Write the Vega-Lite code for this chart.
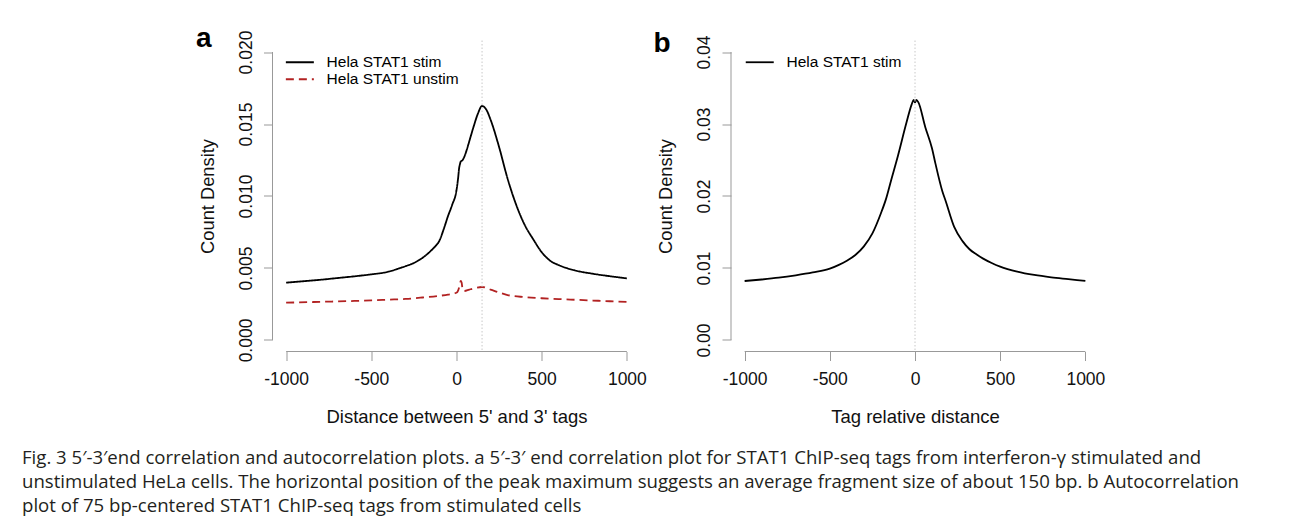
{
  "$schema": "https://vega.github.io/schema/vega-lite/v6.json",
  "background": "white",
  "padding": {"left": 22, "top": 24.5, "right": 0, "bottom": 0},
  "datasets": {
    "a": [
      {"x": -1000, "y": 0.00398, "series": "Hela STAT1 stim"},
      {"x": -900, "y": 0.00408, "series": "Hela STAT1 stim"},
      {"x": -800, "y": 0.00418, "series": "Hela STAT1 stim"},
      {"x": -700, "y": 0.0043, "series": "Hela STAT1 stim"},
      {"x": -600, "y": 0.00442, "series": "Hela STAT1 stim"},
      {"x": -500, "y": 0.00456, "series": "Hela STAT1 stim"},
      {"x": -400, "y": 0.00474, "series": "Hela STAT1 stim"},
      {"x": -330, "y": 0.005, "series": "Hela STAT1 stim"},
      {"x": -300, "y": 0.00512, "series": "Hela STAT1 stim"},
      {"x": -250, "y": 0.00535, "series": "Hela STAT1 stim"},
      {"x": -200, "y": 0.0057, "series": "Hela STAT1 stim"},
      {"x": -150, "y": 0.0062, "series": "Hela STAT1 stim"},
      {"x": -125, "y": 0.0065, "series": "Hela STAT1 stim"},
      {"x": -100, "y": 0.0069, "series": "Hela STAT1 stim"},
      {"x": -75, "y": 0.0077, "series": "Hela STAT1 stim"},
      {"x": -50, "y": 0.0086, "series": "Hela STAT1 stim"},
      {"x": -25, "y": 0.0094, "series": "Hela STAT1 stim"},
      {"x": 0, "y": 0.0104, "series": "Hela STAT1 stim"},
      {"x": 10, "y": 0.0113, "series": "Hela STAT1 stim"},
      {"x": 15, "y": 0.0119, "series": "Hela STAT1 stim"},
      {"x": 20, "y": 0.0122, "series": "Hela STAT1 stim"},
      {"x": 25, "y": 0.0124, "series": "Hela STAT1 stim"},
      {"x": 35, "y": 0.01248, "series": "Hela STAT1 stim"},
      {"x": 45, "y": 0.0127, "series": "Hela STAT1 stim"},
      {"x": 60, "y": 0.0132, "series": "Hela STAT1 stim"},
      {"x": 75, "y": 0.0138, "series": "Hela STAT1 stim"},
      {"x": 100, "y": 0.0148, "series": "Hela STAT1 stim"},
      {"x": 125, "y": 0.0157, "series": "Hela STAT1 stim"},
      {"x": 150, "y": 0.01625, "series": "Hela STAT1 stim"},
      {"x": 175, "y": 0.016, "series": "Hela STAT1 stim"},
      {"x": 200, "y": 0.0153, "series": "Hela STAT1 stim"},
      {"x": 250, "y": 0.0134, "series": "Hela STAT1 stim"},
      {"x": 300, "y": 0.0112, "series": "Hela STAT1 stim"},
      {"x": 350, "y": 0.0094, "series": "Hela STAT1 stim"},
      {"x": 400, "y": 0.008, "series": "Hela STAT1 stim"},
      {"x": 450, "y": 0.007, "series": "Hela STAT1 stim"},
      {"x": 500, "y": 0.0061, "series": "Hela STAT1 stim"},
      {"x": 550, "y": 0.0055, "series": "Hela STAT1 stim"},
      {"x": 600, "y": 0.0052, "series": "Hela STAT1 stim"},
      {"x": 700, "y": 0.00482, "series": "Hela STAT1 stim"},
      {"x": 800, "y": 0.0046, "series": "Hela STAT1 stim"},
      {"x": 900, "y": 0.00443, "series": "Hela STAT1 stim"},
      {"x": 1000, "y": 0.00428, "series": "Hela STAT1 stim"},
      {"x": -1000, "y": 0.00259, "series": "Hela STAT1 unstim"},
      {"x": -800, "y": 0.00265, "series": "Hela STAT1 unstim"},
      {"x": -600, "y": 0.00271, "series": "Hela STAT1 unstim"},
      {"x": -500, "y": 0.00275, "series": "Hela STAT1 unstim"},
      {"x": -400, "y": 0.0028, "series": "Hela STAT1 unstim"},
      {"x": -300, "y": 0.00285, "series": "Hela STAT1 unstim"},
      {"x": -200, "y": 0.00295, "series": "Hela STAT1 unstim"},
      {"x": -100, "y": 0.00307, "series": "Hela STAT1 unstim"},
      {"x": -50, "y": 0.00315, "series": "Hela STAT1 unstim"},
      {"x": 0, "y": 0.00328, "series": "Hela STAT1 unstim"},
      {"x": 10, "y": 0.00345, "series": "Hela STAT1 unstim"},
      {"x": 18, "y": 0.00375, "series": "Hela STAT1 unstim"},
      {"x": 25, "y": 0.0041, "series": "Hela STAT1 unstim"},
      {"x": 30, "y": 0.004, "series": "Hela STAT1 unstim"},
      {"x": 36, "y": 0.0035, "series": "Hela STAT1 unstim"},
      {"x": 45, "y": 0.0034, "series": "Hela STAT1 unstim"},
      {"x": 75, "y": 0.0035, "series": "Hela STAT1 unstim"},
      {"x": 100, "y": 0.00358, "series": "Hela STAT1 unstim"},
      {"x": 150, "y": 0.00368, "series": "Hela STAT1 unstim"},
      {"x": 200, "y": 0.0035, "series": "Hela STAT1 unstim"},
      {"x": 250, "y": 0.0033, "series": "Hela STAT1 unstim"},
      {"x": 300, "y": 0.00312, "series": "Hela STAT1 unstim"},
      {"x": 400, "y": 0.00298, "series": "Hela STAT1 unstim"},
      {"x": 500, "y": 0.0029, "series": "Hela STAT1 unstim"},
      {"x": 600, "y": 0.00284, "series": "Hela STAT1 unstim"},
      {"x": 700, "y": 0.00279, "series": "Hela STAT1 unstim"},
      {"x": 800, "y": 0.00274, "series": "Hela STAT1 unstim"},
      {"x": 900, "y": 0.00269, "series": "Hela STAT1 unstim"},
      {"x": 1000, "y": 0.00265, "series": "Hela STAT1 unstim"}
    ],
    "b": [
      {"x": -1000, "y": 0.00819, "series": "Hela STAT1 stim"},
      {"x": -900, "y": 0.0084, "series": "Hela STAT1 stim"},
      {"x": -800, "y": 0.00865, "series": "Hela STAT1 stim"},
      {"x": -700, "y": 0.00898, "series": "Hela STAT1 stim"},
      {"x": -600, "y": 0.00938, "series": "Hela STAT1 stim"},
      {"x": -500, "y": 0.0099, "series": "Hela STAT1 stim"},
      {"x": -450, "y": 0.0104, "series": "Hela STAT1 stim"},
      {"x": -400, "y": 0.011, "series": "Hela STAT1 stim"},
      {"x": -350, "y": 0.0118, "series": "Hela STAT1 stim"},
      {"x": -300, "y": 0.013, "series": "Hela STAT1 stim"},
      {"x": -250, "y": 0.0148, "series": "Hela STAT1 stim"},
      {"x": -200, "y": 0.0176, "series": "Hela STAT1 stim"},
      {"x": -170, "y": 0.0196, "series": "Hela STAT1 stim"},
      {"x": -140, "y": 0.0222, "series": "Hela STAT1 stim"},
      {"x": -100, "y": 0.0256, "series": "Hela STAT1 stim"},
      {"x": -50, "y": 0.0302, "series": "Hela STAT1 stim"},
      {"x": -20, "y": 0.0327, "series": "Hela STAT1 stim"},
      {"x": -8, "y": 0.03335, "series": "Hela STAT1 stim"},
      {"x": 0, "y": 0.033, "series": "Hela STAT1 stim"},
      {"x": 8, "y": 0.03335, "series": "Hela STAT1 stim"},
      {"x": 20, "y": 0.033, "series": "Hela STAT1 stim"},
      {"x": 60, "y": 0.0296, "series": "Hela STAT1 stim"},
      {"x": 100, "y": 0.0266, "series": "Hela STAT1 stim"},
      {"x": 120, "y": 0.0245, "series": "Hela STAT1 stim"},
      {"x": 160, "y": 0.0207, "series": "Hela STAT1 stim"},
      {"x": 180, "y": 0.0193, "series": "Hela STAT1 stim"},
      {"x": 230, "y": 0.0157, "series": "Hela STAT1 stim"},
      {"x": 280, "y": 0.0137, "series": "Hela STAT1 stim"},
      {"x": 320, "y": 0.0126, "series": "Hela STAT1 stim"},
      {"x": 360, "y": 0.0119, "series": "Hela STAT1 stim"},
      {"x": 400, "y": 0.0113, "series": "Hela STAT1 stim"},
      {"x": 450, "y": 0.0107, "series": "Hela STAT1 stim"},
      {"x": 500, "y": 0.0102, "series": "Hela STAT1 stim"},
      {"x": 600, "y": 0.0095, "series": "Hela STAT1 stim"},
      {"x": 700, "y": 0.00903, "series": "Hela STAT1 stim"},
      {"x": 800, "y": 0.0087, "series": "Hela STAT1 stim"},
      {"x": 900, "y": 0.00845, "series": "Hela STAT1 stim"},
      {"x": 1000, "y": 0.0082, "series": "Hela STAT1 stim"}
    ]
  },
  "bounds": "flush",
  "spacing": 90.5,
  "resolve": {
    "scale": {"color": "independent", "strokeDash": "independent"},
    "legend": {"color": "independent", "strokeDash": "independent"}
  },
  "title": {
    "text": [
      "Fig. 3 5′-3′end correlation and autocorrelation plots. a 5′-3′ end correlation plot for STAT1 ChIP-seq tags from interferon-γ stimulated and",
      "unstimulated HeLa cells. The horizontal position of the peak maximum suggests an average fragment size of about 150 bp. b Autocorrelation",
      "plot of 75 bp-centered STAT1 ChIP-seq tags from stimulated cells"
    ],
    "orient": "bottom",
    "anchor": "start",
    "frame": "group",
    "font": "Open Sans",
    "fontSize": 18.6,
    "fontWeight": "normal",
    "color": "#231f20",
    "lineHeight": 24,
    "baseline": "top",
    "offset": 23
  },
  "hconcat": [
    {
      "width": 160,
      "height": 311,
      "data": {"values": []},
      "mark": "text",
      "encoding": {}
    },
    {
      "width": 368,
      "height": 311,
      "title": {"text": "a", "anchor": "start", "frame": "bounds", "fontSize": 28, "fontWeight": "bold", "font": "Liberation Sans", "color": "#000", "baseline": "alphabetic", "offset": 0, "dy": 45.2, "dx": -2},
      "layer": [
        {
          "data": {"name": "a"},
          "mark": {"type": "line", "interpolate": "monotone", "strokeWidth": 1.8},
          "encoding": {
            "x": {"field": "x", "type": "quantitative", "scale": {"domain": [-1080, 1080], "nice": false, "zero": false},
              "axis": {"title": "Distance between 5' and 3' tags", "values": [-1000, -500, 0, 500, 1000], "format": "d", "labelExpr": "replace(datum.label, '−', '-')"}},
            "y": {"field": "y", "type": "quantitative", "scale": {"domain": [-0.0008, 0.0208], "nice": false, "zero": false},
              "axis": {"title": "Count Density", "values": [0, 0.005, 0.01, 0.015, 0.02], "format": ".3f"}},
            "color": {"field": "series", "type": "nominal", "scale": {"domain": ["Hela STAT1 stim", "Hela STAT1 unstim"], "range": ["#000000", "#b22222"]},
              "legend": {"legendX": 19.6, "legendY": 14}},
            "strokeDash": {"field": "series", "type": "nominal", "scale": {"domain": ["Hela STAT1 stim", "Hela STAT1 unstim"], "range": [[1, 0], [8, 5]]},
              "legend": {"legendX": 19.6, "legendY": 14}}
          }
        },
        {
          "data": {"values": [{}]},
          "mark": {"type": "rule", "color": "#c8c8c8", "strokeDash": [1.5, 2], "strokeWidth": 1},
          "encoding": {"x": {"datum": 150, "type": "quantitative"}}
        },
        {
          "data": {"values": [{}]},
          "mark": {"type": "rule", "color": "#999", "strokeWidth": 1},
          "encoding": {"x": {"datum": -1000, "type": "quantitative"}, "x2": {"datum": 1000}, "y": {"datum": -0.0008, "type": "quantitative"}}
        },
        {
          "data": {"values": [{}]},
          "mark": {"type": "rule", "color": "#999", "strokeWidth": 1},
          "encoding": {"y": {"datum": 0, "type": "quantitative"}, "y2": {"datum": 0.02}, "x": {"datum": -1080, "type": "quantitative"}}
        }
      ]
    },
    {
      "width": 368,
      "height": 311,
      "title": {"text": "b", "anchor": "start", "frame": "bounds", "fontSize": 28, "fontWeight": "bold", "font": "Liberation Sans", "color": "#000", "baseline": "alphabetic", "offset": 0, "dy": 45.2, "dx": -3},
      "layer": [
        {
          "data": {"name": "b"},
          "mark": {"type": "line", "interpolate": "monotone", "strokeWidth": 1.8},
          "encoding": {
            "x": {"field": "x", "type": "quantitative", "scale": {"domain": [-1080, 1080], "nice": false, "zero": false},
              "axis": {"title": "Tag relative distance", "values": [-1000, -500, 0, 500, 1000], "format": "d", "labelExpr": "replace(datum.label, '−', '-')"}},
            "y": {"field": "y", "type": "quantitative", "scale": {"domain": [-0.0016, 0.0416], "nice": false, "zero": false},
              "axis": {"title": "Count Density", "values": [0, 0.01, 0.02, 0.03, 0.04], "format": ".2f"}},
            "color": {"field": "series", "type": "nominal", "scale": {"domain": ["Hela STAT1 stim"], "range": ["#000000"]},
              "legend": {"legendX": 21, "legendY": 14}}
          }
        },
        {
          "data": {"values": [{}]},
          "mark": {"type": "rule", "color": "#c8c8c8", "strokeDash": [1.5, 2], "strokeWidth": 1},
          "encoding": {"x": {"datum": 0, "type": "quantitative"}}
        },
        {
          "data": {"values": [{}]},
          "mark": {"type": "rule", "color": "#999", "strokeWidth": 1},
          "encoding": {"x": {"datum": -1000, "type": "quantitative"}, "x2": {"datum": 1000}, "y": {"datum": -0.0016, "type": "quantitative"}}
        },
        {
          "data": {"values": [{}]},
          "mark": {"type": "rule", "color": "#999", "strokeWidth": 1},
          "encoding": {"y": {"datum": 0, "type": "quantitative"}, "y2": {"datum": 0.04}, "x": {"datum": -1080, "type": "quantitative"}}
        }
      ]
    }
  ],
  "config": {
    "view": {"stroke": null},
    "font": "Liberation Sans",
    "axisX": {"domain": false, "grid": false, "tickColor": "#999", "tickSize": 9, "tickWidth": 1,
      "labelFont": "Liberation Sans", "labelFontSize": 17.5, "labelColor": "#111", "labelPadding": 10, "labelFlush": false, "labelOverlap": false,
      "titleFont": "Liberation Sans", "titleFontSize": 18.5, "titleFontWeight": "normal", "titleColor": "#111", "titlePadding": 19.5},
    "axisY": {"domain": false, "grid": false, "tickColor": "#999", "tickSize": 9, "tickWidth": 1,
      "labelFont": "Liberation Sans", "labelFontSize": 17.5, "labelColor": "#111", "labelAngle": -90, "labelAlign": "center", "labelBaseline": "alphabetic", "labelPadding": 12.5, "labelFlush": false, "labelOverlap": false,
      "titleFont": "Liberation Sans", "titleFontSize": 18.3, "titleFontWeight": "normal", "titleColor": "#111", "titlePadding": 20},
    "legend": {"orient": "none", "title": null, "symbolType": "M-2.8,0H2.8", "symbolSize": 100, "symbolStrokeWidth": 1.8, "symbolFillColor": "transparent",
      "labelFont": "Liberation Sans", "labelFontSize": 15.5, "labelFontWeight": "normal", "labelColor": "#000", "labelOffset": 19, "rowPadding": -4, "padding": 0}
  }
}
